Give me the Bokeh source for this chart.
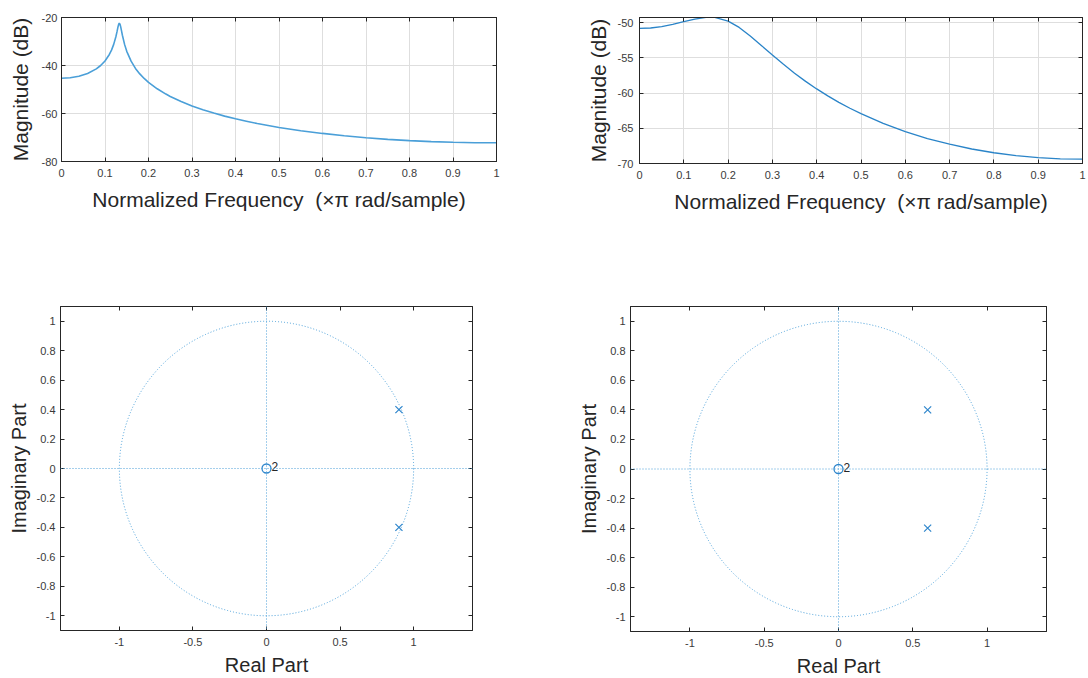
from bokeh.plotting import figure
from bokeh.layouts import column, row
from bokeh.models import LinearAxis, FixedTicker, Span, Range1d
from bokeh.core.properties import value
from bokeh.embed import file_html
from bokeh.resources import INLINE

FONT = "Liberation Sans"
DARK = "#262626"
TICK_COLOR = "#3a3a3a"
GRID = "#dedede"

# ---- magnitude response, filter A (poles 0.9 +/- 0.4j) ----
freq_a = [0, 0.02, 0.04, 0.06, 0.08, 0.09, 0.10, 0.11, 0.115, 0.12, 0.125, 0.1275,
          0.13, 0.1315, 0.1328, 0.1345, 0.136, 0.138, 0.14, 0.145, 0.15, 0.16, 0.17,
          0.18, 0.19, 0.20, 0.22, 0.24, 0.25, 0.275, 0.30, 0.325, 0.35, 0.375, 0.40,
          0.425, 0.45, 0.475, 0.50, 0.55, 0.60, 0.65, 0.70, 0.75, 0.80, 0.85, 0.90,
          0.95, 1.0]
mag_a = [-45.3, -45.1, -44.5, -43.3, -41.4, -40.0, -38.1, -35.4, -33.6, -31.2, -28.0, -26.0,
         -23.8, -22.8, -22.4, -22.8, -23.8, -25.6, -27.4, -31.2, -34.1, -38.2, -41.2,
         -43.5, -45.4, -47.0, -49.7, -51.9, -52.9, -55.0, -56.9, -58.4, -59.8, -61.1, -62.2,
         -63.2, -64.2, -65.0, -65.8, -67.2, -68.3, -69.3, -70.1, -70.8, -71.3, -71.7, -72.0,
         -72.2, -72.2]

# ---- magnitude response, filter B (poles 0.6 +/- 0.4j) ----
freq_b = [0, 0.025, 0.05, 0.075, 0.10, 0.125, 0.15, 0.16, 0.17, 0.20, 0.225, 0.25,
          0.275, 0.30, 0.325, 0.35, 0.375, 0.40, 0.425, 0.45, 0.475, 0.50, 0.55,
          0.60, 0.65, 0.70, 0.75, 0.80, 0.85, 0.90, 0.95, 1.0]
mag_b = [-50.80, -50.74, -50.54, -50.23, -49.85, -49.48, -49.23, -49.20, -49.24, -49.76,
         -50.66, -51.87, -53.22, -54.59, -55.91, -57.16, -58.33, -59.40, -60.39, -61.31,
         -62.15, -62.92, -64.30, -65.47, -66.45, -67.26, -67.94, -68.47, -68.88, -69.16,
         -69.33, -69.39]

# ---- pole / zero data ----
zeros_a_re = [0.0]
zeros_a_im = [0.0]
zeros_a_mult = ["2"]
poles_a_re = [0.9, 0.9]
poles_a_im = [0.4, -0.4]

zeros_b_re = [0.0]
zeros_b_im = [0.0]
zeros_b_mult = ["2"]
poles_b_re = [0.6, 0.6]
poles_b_im = [0.4, -0.4]

unit_x = [0.0]
unit_y = [0.0]
unit_d = [2.0]

# ---- ticks ----
freq_ticks = [0, 0.1, 0.2, 0.3, 0.4, 0.5, 0.6, 0.7, 0.8, 0.9, 1]
freq_tick_labels = ["0", "0.1", "0.2", "0.3", "0.4", "0.5", "0.6", "0.7", "0.8", "0.9", "1"]
mag_a_ticks = [-80, -60, -40, -20]
mag_a_tick_labels = ["-80", "-60", "-40", "-20"]
mag_b_ticks = [-70, -65, -60, -55, -50]
mag_b_tick_labels = ["-70", "-65", "-60", "-55", "-50"]
re_ticks = [-1, -0.5, 0, 0.5, 1]
re_tick_labels = ["-1", "-0.5", "0", "0.5", "1"]
im_ticks = [-1, -0.8, -0.6, -0.4, -0.2, 0, 0.2, 0.4, 0.6, 0.8, 1]
im_tick_labels = ["-1", "-0.8", "-0.6", "-0.4", "-0.2", "0", "0.2", "0.4", "0.6", "0.8", "1"]

X_LABEL_TOP = "Normalized Frequency \u00a0(\u00d7\u03c0 rad/sample)"
Y_LABEL_TOP = "Magnitude (dB)"
X_LABEL_BOT = "Real Part"
Y_LABEL_BOT = "Imaginary Part"


def style_axis(ax, ticks, labels, label_size, tick_size="11px", lab_standoff=5, ax_standoff=6):
    ax.ticker = FixedTicker(ticks=ticks)
    ax.major_label_overrides = dict(zip(ticks, labels))
    ax.major_tick_in = 4
    ax.major_tick_out = 0
    ax.minor_tick_line_color = None
    ax.axis_line_color = DARK
    ax.major_tick_line_color = DARK
    ax.major_label_text_font = FONT
    ax.major_label_text_font_size = tick_size
    ax.major_label_text_color = TICK_COLOR
    ax.major_label_standoff = lab_standoff
    ax.axis_label_text_font = FONT
    ax.axis_label_text_font_size = label_size
    ax.axis_label_text_font_style = "normal"
    ax.axis_label_text_color = DARK
    ax.axis_label_standoff = ax_standoff


def mirror_axes(p, xticks, yticks):
    for loc, ticks in (("above", xticks), ("right", yticks)):
        ax = LinearAxis(ticker=FixedTicker(ticks=ticks))
        ax.major_label_text_color = None
        ax.major_label_text_font_size = "1px"
        ax.major_label_standoff = 0
        ax.major_tick_in = 4
        ax.major_tick_out = 0
        ax.minor_tick_line_color = None
        ax.axis_line_color = DARK
        ax.major_tick_line_color = DARK
        p.add_layout(ax, loc)


def base_fig(xr, yr, fw, fh, left, right, top, bottom):
    p = figure(x_range=Range1d(*xr), y_range=Range1d(*yr),
               frame_width=fw, frame_height=fh,
               min_border_left=left, min_border_right=right,
               min_border_top=top, min_border_bottom=bottom,
               output_backend="svg", toolbar_location=None,
               background_fill_color="white", border_fill_color="white")
    p.outline_line_color = DARK
    p.outline_line_width = 1
    return p


# ---- top-left ----
p1 = base_fig((0, 1), (-80, -20), 435, 144, 61, 84, 16, 140)
p1.line(freq_a, mag_a, line_color="#4a9fd8", line_width=1.6)
style_axis(p1.xaxis[0], freq_ticks, freq_tick_labels, "21px", lab_standoff=7, ax_standoff=8)
style_axis(p1.yaxis[0], mag_a_ticks, mag_a_tick_labels, "21px", lab_standoff=4, ax_standoff=7)
p1.xaxis.axis_label = X_LABEL_TOP
p1.yaxis.axis_label = Y_LABEL_TOP
p1.xgrid.ticker = FixedTicker(ticks=freq_ticks)
p1.ygrid.ticker = FixedTicker(ticks=mag_a_ticks)
p1.grid.grid_line_color = GRID
mirror_axes(p1, freq_ticks, mag_a_ticks)

# ---- top-right ----
p2 = base_fig((0, 1), (-70, -49.25), 443, 146, 59, 6, 17, 137)
p2.line(freq_b, mag_b, line_color="#2a84c8", line_width=1.3)
style_axis(p2.xaxis[0], freq_ticks, freq_tick_labels, "21px", lab_standoff=7, ax_standoff=8)
style_axis(p2.yaxis[0], mag_b_ticks, mag_b_tick_labels, "21px", lab_standoff=6, ax_standoff=5)
p2.xaxis.axis_label = X_LABEL_TOP
p2.yaxis.axis_label = Y_LABEL_TOP
p2.xgrid.ticker = FixedTicker(ticks=freq_ticks)
p2.ygrid.ticker = FixedTicker(ticks=mag_b_ticks)
p2.grid.grid_line_color = GRID
mirror_axes(p2, freq_ticks, mag_b_ticks)


def pz_plot(p, zre, zim, zmult, pre, pim):
    p.grid.grid_line_color = None
    dot_col = "#4a9fd8"
    p.ellipse(x=unit_x, y=unit_y, width=unit_d, height=unit_d, fill_color=None,
              line_color=dot_col, line_dash="1 2", line_width=1)
    p.add_layout(Span(location=0, dimension="width", line_color=dot_col,
                      line_dash="1 2", line_width=1))
    p.add_layout(Span(location=0, dimension="height", line_color=dot_col,
                      line_dash="1 2", line_width=1))
    p.scatter(zre, zim, marker="circle", size=9, fill_color=None,
              line_color="#2f86cc", line_width=1.3)
    p.scatter(pre, pim, marker="x", size=10, line_color="#2f86cc", line_width=1.2)
    p.text(x=zre, y=zim, text=zmult, x_offset=5, y_offset=-2,
           text_font=value(FONT), text_font_size="12px", text_color=DARK,
           text_baseline="alphabetic", text_align="left")
    style_axis(p.xaxis[0], re_ticks, re_tick_labels, "20px", lab_standoff=7, ax_standoff=5)
    style_axis(p.yaxis[0], im_ticks, im_tick_labels, "20px", lab_standoff=5, ax_standoff=4)
    p.xaxis.axis_label = X_LABEL_BOT
    p.yaxis.axis_label = Y_LABEL_BOT
    mirror_axes(p, re_ticks, im_ticks)


# ---- bottom-left ----
p3 = base_fig((-1.4, 1.4), (-1.1, 1.1), 412, 324, 60, 101, 3, 51)
pz_plot(p3, zeros_a_re, zeros_a_im, zeros_a_mult, poles_a_re, poles_a_im)

# ---- bottom-right ----
p4 = base_fig((-1.4, 1.4), (-1.1, 1.1), 416, 325, 57, 42, 6, 47)
pz_plot(p4, zeros_b_re, zeros_b_im, zeros_b_mult, poles_b_re, poles_b_im)

layout = column(row(p1, p2), row(p3, p4))
open("out.html", "w").write(file_html(layout, INLINE))
